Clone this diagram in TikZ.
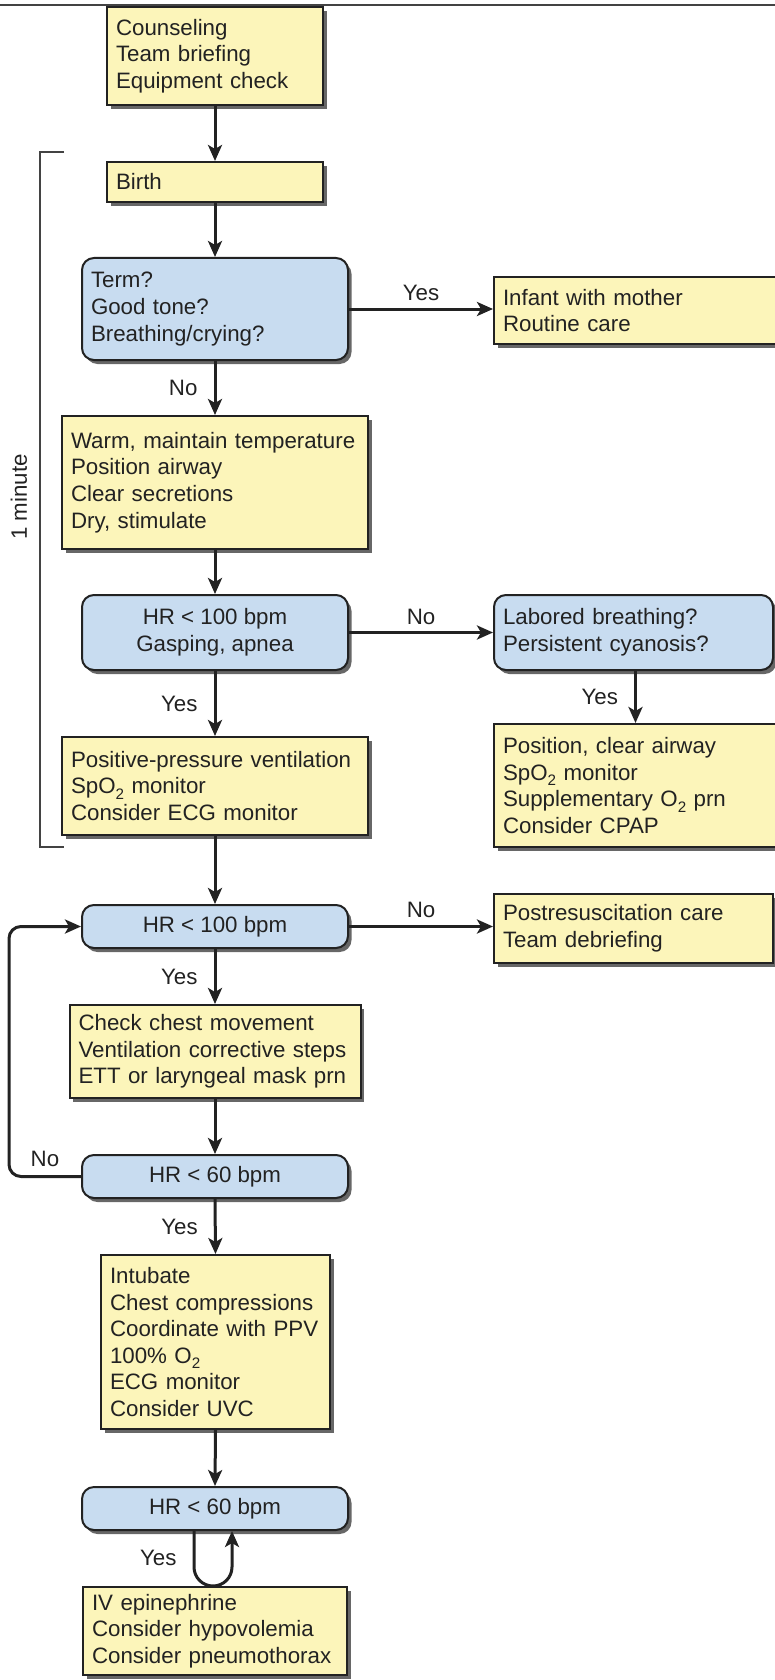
\documentclass[tikz,border=0pt]{standalone}
\usepackage{fontspec}
\setmainfont{Liberation Sans}
\usetikzlibrary{arrows.meta,shadows}
\definecolor{yfill}{RGB}{252,245,186}
\definecolor{bfill}{RGB}{200,220,240}
\definecolor{ink}{RGB}{34,34,34}
\newcommand{\lowtwo}{\raisebox{-0.24em}{\fontsize{15.2pt}{15.2pt}\selectfont 2}}
\hyphenpenalty=10000
\exhyphenpenalty=10000
\begin{document}
\begin{tikzpicture}[x=1pt,y=-1pt,
  every node/.style={font=\fontsize{22.3pt}{26.6pt}\selectfont, text=ink},
  box/.style={draw=ink, line width=2pt, inner xsep=9pt, inner ysep=0pt,
    drop shadow={shadow xshift=3.5pt, shadow yshift=-4pt, fill=black!70, opacity=0.85}},
  ybox/.style={box, fill=yfill, align=left},
  bbox/.style={box, fill=bfill, rounded corners=12pt},
  arr/.style={draw=ink, line width=3pt, -{Stealth[length=16pt,width=14pt,inset=4pt]}},
  lbl/.style={inner sep=0pt},
  thin/.style={draw=ink!85, line width=1.6pt}
]
\useasboundingbox (0,0) rectangle (775,1680);

% top rule
\coordinate (ruleL) at (0,5);
\coordinate (ruleR) at (775,5);
\draw[thin] (ruleL) -- (ruleR);

% bracket "1 minute"
\coordinate (brA) at (64,152);
\coordinate (brB) at (40,152);
\coordinate (brC) at (40,847);
\coordinate (brD) at (64,847);
\draw[thin] (brA) -- (brB) -- (brC) -- (brD);
\node[lbl, rotate=90] (oneminute) at (19,497) {1 minute};

% left column
\node[ybox, text width=198pt, minimum height=98pt] (counsel) at (215,56) {Counseling\\Team briefing\\Equipment check};
\node[ybox, text width=198pt, minimum height=40pt] (birth) at (215,182) {Birth};
\node[bbox, align=left, text width=248pt, minimum height=102pt] (term) at (215,309) {Term?\\Good tone?\\Breathing/crying?};
\node[ybox, text width=288pt, minimum height=133pt] (warm) at (215,482.5) {Warm, maintain temperature\\Position airway\\Clear secretions\\Dry, stimulate};
\node[bbox, align=center, minimum width=266pt, minimum height=75pt] (hr1) at (215,632.5) {HR < 100 bpm\\Gasping, apnea};
\node[ybox, text width=288pt, minimum height=98pt] (ppv) at (215,786) {Positive-pressure ventilation\\SpO\lowtwo{} monitor\\Consider ECG monitor};
\node[bbox, align=center, minimum width=266pt, minimum height=43pt] (hr2) at (215,926.5) {HR < 100 bpm};
\node[ybox, text width=273pt, minimum height=93pt] (check) at (215,1051.5) {Check chest movement\\Ventilation corrective steps\\ETT or laryngeal mask prn};
\node[bbox, align=center, minimum width=266pt, minimum height=43pt] (hr3) at (215,1176.5) {HR < 60 bpm};
\node[ybox, text width=211pt, minimum height=174pt] (intub) at (215.5,1342) {Intubate\\Chest compressions\\Coordinate with PPV\\100\% O\lowtwo\\ECG monitor\\Consider UVC};
\node[bbox, align=center, minimum width=266pt, minimum height=43pt] (hr4) at (215,1508.5) {HR < 60 bpm};
\node[ybox, text width=246pt, minimum height=88pt] (epi) at (215,1631) {IV epinephrine\\Consider hypovolemia\\Consider pneumothorax};

% right column
\node[ybox, text width=280pt, minimum height=67pt] (infant) at (643,310.5) {Infant with mother\\Routine care};
\node[bbox, align=left, text width=261pt, minimum height=75pt] (labored) at (633.5,632.5) {Labored breathing?\\Persistent cyanosis?};
\node[ybox, text width=280pt, minimum height=123pt] (position) at (643,785.5) {Position, clear airway\\SpO\lowtwo{} monitor\\Supplementary O\lowtwo{} prn\\Consider CPAP};
\node[ybox, text width=261pt, minimum height=69pt] (post) at (633.5,928.5) {Postresuscitation care\\Team debriefing};

% connectors
\draw[arr] (counsel.south) -- (birth.north);
\draw[arr] (birth.south) -- (term.north);
\draw[arr] (term.east) -- node[lbl, above=7pt] {Yes} (term.east -| infant.west);
\draw[arr] (term.south) -- node[lbl, left=16pt] {No} (warm.north);
\draw[arr] (warm.south) -- (hr1.north);
\draw[arr] (hr1.east) -- node[lbl, above=6pt] {No} (hr1.east -| labored.west);
\draw[arr] ([xshift=2pt]labored.south) -- node[lbl, left=16pt] {Yes} ([xshift=2pt]labored.south |- position.north);
\draw[arr] (hr1.south) -- node[lbl, left=16pt] {Yes} (ppv.north);
\draw[arr] (ppv.south) -- (hr2.north);
\draw[arr] (hr2.east) -- node[lbl, above=7pt] {No} (hr2.east -| post.west);
\draw[arr] (hr2.south) -- node[lbl, left=16pt] {Yes} (check.north);
\draw[arr] (check.south) -- (hr3.north);
\coordinate (loopL) at (9,0);
\draw[arr, rounded corners=12pt] (hr3.west) -- node[lbl, above=8pt] {No} (hr3.west -| loopL) |- (hr2.west);
\draw[arr] (hr3.south) -- node[lbl, left=16pt] {Yes} (intub.north);
\draw[arr] (intub.south) -- (hr4.north);
\coordinate (uL) at ([xshift=-21pt]hr4.south);
\coordinate (uR) at ([xshift=17pt]hr4.south);
\draw[arr] (uL) -- node[lbl, left=16pt, pos=0.75] {Yes} ++(0,36) arc[start angle=180, end angle=360, radius=19pt] -- (uR);
\end{tikzpicture}
\end{document}
